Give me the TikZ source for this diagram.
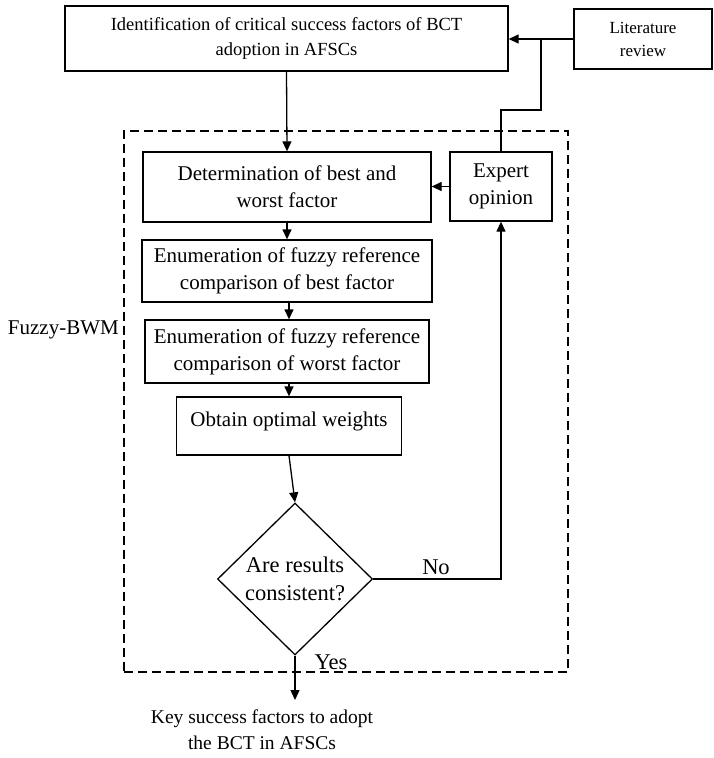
\documentclass[tikz,border=0pt]{standalone}
\usepackage{fontspec}
\setmainfont{Liberation Serif}
\usetikzlibrary{arrows.meta,shapes.geometric}
\tikzset{
  box/.style={draw, line width=1.3pt, inner sep=0pt, align=center, font=\fontsize{21}{27}\selectfont},
  dashbox/.style={draw, line width=1.3pt, dash pattern=on 9pt off 5pt, inner sep=0pt},
  line/.style={line width=1.3pt},
  arr/.style={line width=1.3pt, -{Triangle[length=10pt,width=9pt]}},
  lbl/.style={inner sep=0pt, align=center, font=\fontsize{21}{27}\selectfont}
}
\begin{document}
\begin{tikzpicture}[x=1pt,y=-1pt]
\useasboundingbox (0,0) rectangle (714,758);
% frame
\node[dashbox, minimum width=444pt, minimum height=541pt] (frame) at (346,401.5) {};
% boxes
\node[box, minimum width=443pt, minimum height=65pt, font=\fontsize{18.5}{25}\selectfont] (top) at (286.5,38.5)
  {Identification of critical success factors of BCT\\adoption in AFSCs};
\node[box, minimum width=138pt, minimum height=60pt, font=\fontsize{17}{23}\selectfont] (lit) at (643,39)
  {Literature\\review};
\node[box, minimum width=288pt, minimum height=70pt] (det) at (287,187)
  {Determination of best and\\worst factor};
\node[box, minimum width=102pt, minimum height=69pt] (exp) at (501,186.5)
  {Expert\\opinion};
\node[box, minimum width=290pt, minimum height=62pt] (en1) at (287,271)
  {Enumeration of fuzzy reference\\comparison of best factor};
\node[box, minimum width=284pt, minimum height=63pt] (en2) at (287,351.5)
  {Enumeration of fuzzy reference\\comparison of worst factor};
\node[box, minimum width=225pt, minimum height=58pt, text depth=14pt] (opt) at (289,426)
  {Obtain optimal weights};
\node[box, shape=diamond, minimum width=155pt, minimum height=152pt, font=\fontsize{22.5}{28}\selectfont] (dia) at (295,579)
  {Are results\\consistent?};
% labels
\node[lbl, anchor=east] (fz) at (119,330) {Fuzzy-BWM};
\node[lbl, font=\fontsize{22.5}{28}\selectfont] (no) at (436,567) {No};
\node[lbl, font=\fontsize{22.5}{28}\selectfont] (yes) at (331,662) {Yes};
\node[lbl, font=\fontsize{19.5}{26}\selectfont] (key) at (262,730)
  {Key success factors to adopt\\the BCT in AFSCs};
% connectors
\coordinate (br) at (541,39);
\coordinate (bend) at (501,110);
\coordinate (out) at (295,700);
\draw[arr] (lit.west) -- (lit.west -| top.east);
\draw[line] (br) |- (bend) -- (exp.north);
\draw[arr] (top.south) -- (det.north);
\draw[arr] (exp.west) -- (exp.west -| det.east);
\draw[arr] (det.south) -- (det.south |- en1.north);
\draw[arr] (en1.south -| 289,0) -- (en2.north -| 289,0);
\draw[arr] (en2.south -| 289,0) -- (opt.north);
\draw[arr] (opt.south) -- (dia.north);
\draw[arr] (dia.east) -| (exp.south);
\draw[arr] (dia.south) -- (out);
\end{tikzpicture}
\end{document}
